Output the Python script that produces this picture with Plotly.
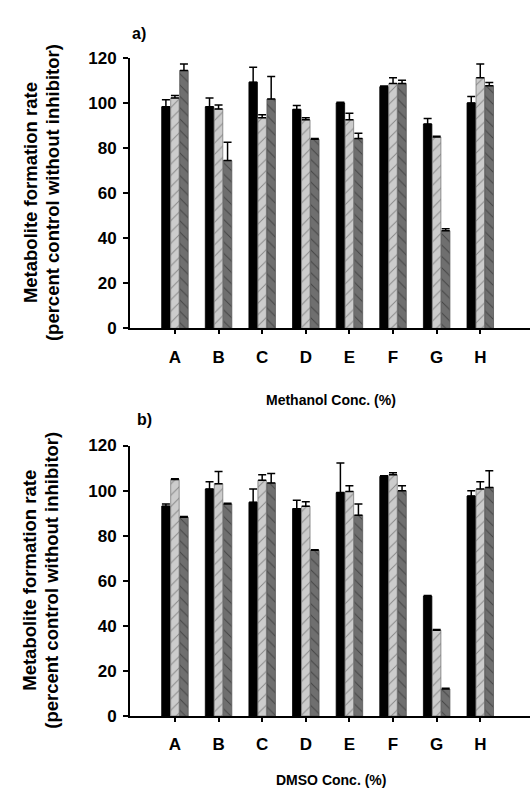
import plotly.graph_objects as go
from plotly.subplots import make_subplots

categories = ["A", "B", "C", "D", "E", "F", "G", "H"]
y_ticks = [0, 20, 40, 60, 80, 100, 120]

meth_black = [98.3, 98.3, 109.2, 97.1, 100.0, 107.2, 90.6, 100.0]
meth_black_err = [3.1, 3.9, 6.6, 1.7, 0.3, 0.3, 2.5, 2.9]
meth_light = [102.2, 97.3, 93.4, 92.5, 92.5, 108.6, 84.9, 111.2]
meth_light_err = [1.1, 1.8, 1.3, 0.9, 2.9, 2.6, 0.3, 6.1]
meth_dark = [114.4, 74.4, 101.7, 83.9, 84.2, 108.6, 43.3, 107.6]
meth_dark_err = [2.9, 8.2, 10.0, 0.3, 2.3, 1.4, 0.9, 1.5]

dmso_black = [93.1, 100.7, 94.8, 92.0, 99.1, 106.3, 53.2, 97.6]
dmso_black_err = [1.0, 3.2, 5.9, 3.7, 13.1, 0.3, 0.3, 2.3]
dmso_light = [104.9, 103.0, 104.6, 93.1, 99.6, 107.0, 38.1, 100.7]
dmso_light_err = [0.3, 5.5, 2.4, 1.9, 2.6, 0.9, 0.3, 3.2]
dmso_dark = [88.2, 94.1, 103.4, 73.5, 89.1, 99.9, 12.0, 101.4]
dmso_dark_err = [0.3, 0.3, 4.2, 0.3, 4.9, 2.3, 0.3, 7.4]

W, H = 532, 810
FONT = "Arial, Liberation Sans, sans-serif"

fig = make_subplots(rows=2, cols=1)

styles = [
    dict(color="#000000", pattern=None, line="#000000"),
    dict(color="#cccccc", pattern=dict(shape="/", fgcolor="#444444", bgcolor="#cccccc", size=8, solidity=0.12), line="#777777"),
    dict(color="#6f6f6f", pattern=dict(shape="\\", fgcolor="#1a1a1a", bgcolor="#6f6f6f", size=8, solidity=0.12), line="#555555"),
]

panels = [
    (1, [meth_black, meth_light, meth_dark], [meth_black_err, meth_light_err, meth_dark_err]),
    (2, [dmso_black, dmso_light, dmso_dark], [dmso_black_err, dmso_light_err, dmso_dark_err]),
]

for row, vals, errs in panels:
    for st, v, e in zip(styles, vals, errs):
        marker = dict(color=st["color"], line=dict(color=st["line"], width=0.8))
        if st["pattern"]:
            marker["pattern"] = st["pattern"]
        fig.add_trace(go.Bar(
            x=categories, y=v, marker=marker, showlegend=False,
            error_y=dict(type="data", symmetric=False, array=e, arrayminus=[0] * len(e),
                         color="#000000", thickness=1.5, width=4),
        ), row=row, col=1)

# plot-area geometry in pixels
top1, base1 = 50, 327
top2, base2 = 447, 724
xdom = [130 / W, 530 / W]
ydom1 = [1 - base1 / H, 1 - top1 / H]
ydom2 = [1 - base2 / H, 1 - top2 / H]

axis_common = dict(showline=True, linecolor="black", linewidth=2, ticks="outside",
                   tickcolor="black", tickwidth=1.5, showgrid=False, zeroline=False,
                   tickfont=dict(family=FONT, size=17, color="black", weight="bold"))

fig.update_layout(
    width=W, height=H, margin=dict(l=0, r=0, t=0, b=0),
    plot_bgcolor="white", paper_bgcolor="white",
    barmode="group", bargap=0.38, bargroupgap=0.06,
    xaxis=dict(domain=xdom, range=[-1.03, 8.14], ticklen=4, ticklabelstandoff=8, anchor="y", **axis_common),
    xaxis2=dict(domain=xdom, range=[-1.03, 8.14], ticklen=4, ticklabelstandoff=8, anchor="y2", **axis_common),
    yaxis=dict(domain=ydom1, range=[0, 120], tickvals=y_ticks, ticklen=5, ticklabelstandoff=3, anchor="x", **axis_common),
    yaxis2=dict(domain=ydom2, range=[0, 120], tickvals=y_ticks, ticklen=5, ticklabelstandoff=3, anchor="x2", **axis_common),
)

def ann(text, x, y, size=14, angle=0):
    fig.add_annotation(text=text, x=x / W, y=1 - y / H, xref="paper", yref="paper",
                       showarrow=False, textangle=angle, xanchor="center", yanchor="middle",
                       font=dict(family=FONT, size=size, color="black", weight="bold"))

line1 = "Metabolite formation rate"
line2 = "(percent control without inhibitor)"
for top, base in [(top1, base1), (top2, base2)]:
    mid = (top + base) / 2
    ann(line1, 30, mid, size=18.5, angle=-90)
    ann(line2, 52, mid, size=18.5, angle=-90)

ann("Methanol Conc. (%)", 331, 400)
ann("DMSO Conc. (%)", 331, 790)
ann("a)", 139, 25, size=16)
ann("b)", 144, 420, size=16)

fig.write_html("out.html")
